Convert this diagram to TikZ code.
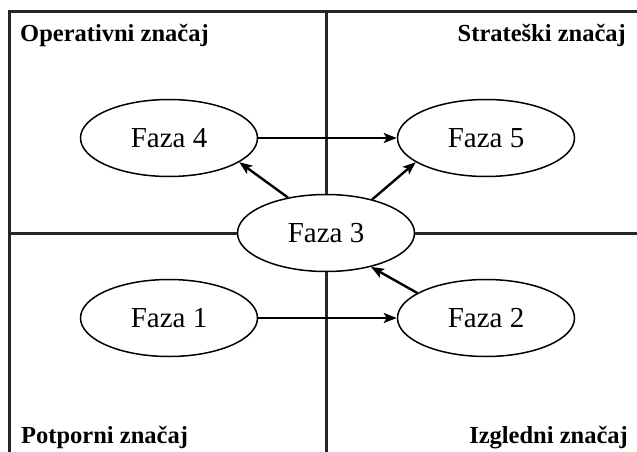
\documentclass[tikz,border=0pt]{standalone}
\usepackage{fontspec}
\setmainfont{Liberation Serif}
\usetikzlibrary{shapes.geometric,arrows.meta}
\begin{document}
\begin{tikzpicture}[x=1pt,y=-1pt,
  faza/.style={draw,ellipse,line width=1.5pt,minimum width=177pt,minimum height=77pt,inner sep=0pt,font=\fontsize{29}{31}\selectfont},
  frame/.style={line width=3pt,color=black!85},
  conn/.style={line width=2.4pt,-{Stealth[length=13pt,width=10pt,inset=3pt]}},
  corner/.style={font=\bfseries\fontsize{24.5}{26}\selectfont,inner sep=0pt}]
\useasboundingbox (0,0) rectangle (637,452);
% nodes
\node[faza] (F4) at (169,138) {Faza 4};
\node[faza] (F5) at (486,138) {Faza 5};
\node[faza] (F3) at (326,233) {Faza 3};
\node[faza] (F1) at (169,318) {Faza 1};
\node[faza] (F2) at (486,318) {Faza 2};
% frame coordinates
\coordinate (TL) at (9,12);
\coordinate (TR) at (637,12);
\coordinate (BL) at (9,452);
\coordinate (ML) at (9,233);
\coordinate (MR) at (637,233);
\coordinate (VT) at (326,12);
\coordinate (VB) at (326,452);
\draw[frame] (TR) -- (TL) -- (BL);
\draw[frame] (ML) -- (F3.west);
\draw[frame] (F3.east) -- (MR);
\draw[frame] (VT) -- (F3.north);
\draw[frame] (F3.south) -- (VB);
% arrows
\draw[conn] (F4.east) -- (F5.west);
\draw[conn] (F1.east) -- (F2.west);
\draw[conn] (F3.137) -- (F4.-19);
\draw[conn] (F3.36) -- (F5.199);
\draw[conn] (F2.160) -- (F3.-37);
% labels
\node[corner,anchor=base west] (L1) at (20,42) {Operativni značaj};
\node[corner,anchor=base east] (L2) at (626,42) {Strateški značaj};
\node[corner,anchor=base west] (L3) at (21,443) {Potporni značaj};
\node[corner,anchor=base east] (L4) at (628,443) {Izgledni značaj};
\end{tikzpicture}
\end{document}
